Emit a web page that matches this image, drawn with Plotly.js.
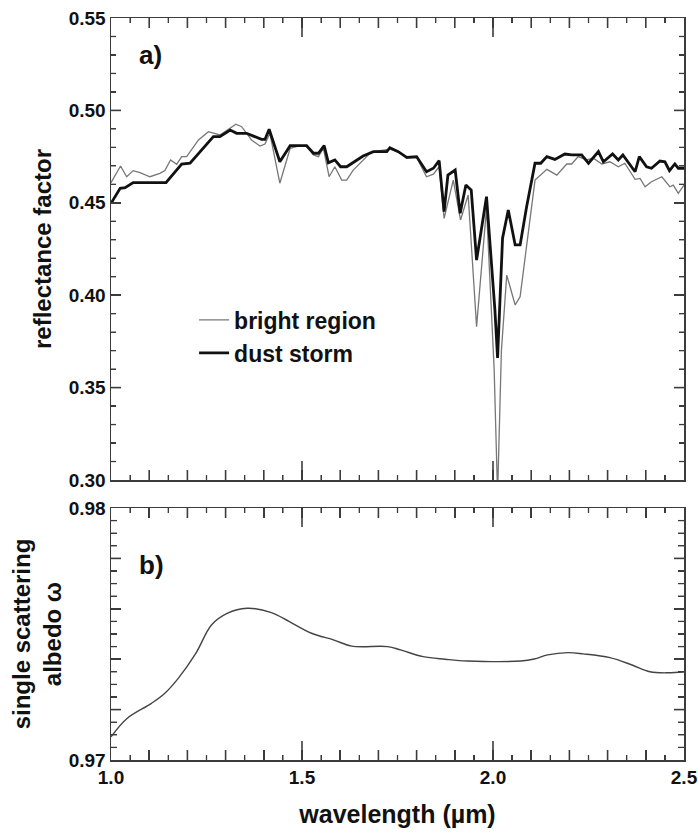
<!DOCTYPE html>
<html>
<head>
<meta charset="utf-8">
<script src="https://cdn.plot.ly/plotly-3.0.1.min.js"></script>
<style>
html,body{margin:0;padding:0;background:#fff;}
#wrap{position:relative;width:698px;height:832px;overflow:hidden;background:#fff;}
#top{position:absolute;left:0;top:0;width:698px;height:500px;}
#bot{position:absolute;left:0;top:490px;width:698px;height:342px;}
</style>
</head>
<body>
<div id="wrap"><div id="top"></div><div id="bot"></div></div>
<script>
// ---- data ----
const wlBright = [1.000,1.025,1.041,1.058,1.076,1.102,1.128,1.141,1.156,1.172,1.185,1.198,1.229,1.255,1.285,1.327,1.342,1.368,1.390,1.403,1.416,1.442,1.469,1.495,1.512,1.530,1.543,1.556,1.571,1.586,1.604,1.617,1.634,1.678,1.687,1.730,1.757,1.774,1.800,1.826,1.844,1.859,1.872,1.896,1.915,1.935,1.957,1.983,2.003,2.012,2.022,2.036,2.058,2.071,2.110,2.141,2.167,2.193,2.206,2.223,2.245,2.263,2.285,2.306,2.328,2.345,2.372,2.385,2.398,2.415,2.442,2.463,2.472,2.485,2.500];
const reflBright = [0.4609,0.4699,0.4641,0.4674,0.4663,0.4641,0.4659,0.4674,0.4732,0.4708,0.4750,0.4750,0.4840,0.4885,0.4867,0.4925,0.4912,0.4840,0.4807,0.4818,0.4876,0.4606,0.4795,0.4809,0.4809,0.4759,0.4750,0.4795,0.4641,0.4695,0.4623,0.4623,0.4677,0.4768,0.4777,0.4790,0.4771,0.4740,0.4745,0.4641,0.4655,0.4695,0.4416,0.4623,0.4407,0.4542,0.3830,0.4470,0.3600,0.2920,0.3700,0.4109,0.3947,0.3992,0.4623,0.4681,0.4650,0.4710,0.4710,0.4750,0.4732,0.4741,0.4710,0.4722,0.4695,0.4714,0.4627,0.4632,0.4587,0.4614,0.4641,0.4587,0.4596,0.4551,0.4596];

const wlDust = [1.000,1.024,1.037,1.058,1.144,1.185,1.207,1.268,1.285,1.312,1.329,1.355,1.373,1.394,1.403,1.414,1.442,1.469,1.512,1.530,1.543,1.558,1.569,1.586,1.601,1.617,1.660,1.687,1.722,1.730,1.752,1.774,1.800,1.826,1.844,1.859,1.872,1.882,1.901,1.914,1.929,1.943,1.957,1.983,2.005,2.012,2.025,2.040,2.058,2.071,2.088,2.110,2.125,2.141,2.162,2.188,2.206,2.232,2.250,2.276,2.289,2.313,2.328,2.340,2.372,2.383,2.402,2.415,2.437,2.450,2.462,2.476,2.485,2.500];
const reflDust = [0.4497,0.4578,0.4582,0.4609,0.4609,0.4710,0.4714,0.4858,0.4858,0.4894,0.4876,0.4876,0.4861,0.4843,0.4843,0.4898,0.4722,0.4809,0.4809,0.4768,0.4768,0.4809,0.4717,0.4732,0.4695,0.4695,0.4753,0.4777,0.4777,0.4798,0.4777,0.4746,0.4750,0.4668,0.4687,0.4728,0.4452,0.4650,0.4677,0.4443,0.4596,0.4569,0.4190,0.4533,0.3920,0.3660,0.4308,0.4461,0.4272,0.4272,0.4479,0.4714,0.4714,0.4750,0.4735,0.4764,0.4759,0.4759,0.4714,0.4777,0.4722,0.4764,0.4732,0.4759,0.4668,0.4750,0.4695,0.4687,0.4726,0.4722,0.4674,0.4710,0.4687,0.4687];

const wlAlbedo = [1.000,1.042,1.106,1.141,1.176,1.222,1.263,1.304,1.356,1.420,1.467,1.525,1.584,1.630,1.724,1.758,1.817,1.875,1.933,2.073,2.108,2.143,2.196,2.236,2.306,2.364,2.411,2.458,2.500];
const albedo = [0.97092,0.97165,0.97225,0.97265,0.97324,0.97423,0.97536,0.97582,0.97602,0.97585,0.97549,0.97503,0.97476,0.97452,0.97450,0.97437,0.97410,0.97400,0.97393,0.97393,0.97401,0.97417,0.97426,0.97421,0.97406,0.97377,0.97350,0.97346,0.97350];

// tick positions / labels (x: every 0.1, labelled every 0.5)
const xTickVals = [1.0,1.1,1.2,1.3,1.4,1.5,1.6,1.7,1.8,1.9,2.0,2.1,2.2,2.3,2.4,2.5];
const xTickText = ["1.0","","","","","1.5","","","","","2.0","","","","","2.5"];
const xLongTicks = [1.5, 2.0];
const yTopTickVals = [0.30, 0.35, 0.40, 0.45, 0.50, 0.55];
const yTopTickText = ["0.30", "0.35", "0.40", "0.45", "0.50", "0.55"];
const yBotTickVals = [0.970, 0.972, 0.974, 0.976, 0.978, 0.980];
const yBotTickText = ["0.97", "", "", "", "", "0.98"];

// ---- styling ----
const AX = '#3c3c3c';
const FAM = 'Liberation Sans, Arial, sans-serif';
const PLOT_W = 573;
function tickFont(){ return {family: FAM, size: 19, weight: 'bold', color: '#111'}; }
function titleFont(){ return {family: FAM, size: 24, weight: 'bold', color: '#111'}; }

function xAxis(extra){
  return Object.assign({
    range: [xTickVals[0], xTickVals[xTickVals.length - 1]], showgrid: false, zeroline: false,
    showline: true, linecolor: AX, linewidth: 1.5, mirror: 'ticks',
    ticks: 'inside', tickcolor: AX, tickwidth: 1.5, ticklen: 10,
    tickmode: 'array', tickvals: xTickVals, ticktext: xTickText,
    minor: {ticks: 'inside', tickmode: 'linear', tick0: 1.0, dtick: 0.05, ticklen: 5, tickcolor: AX, tickwidth: 1.2, showgrid: false},
    tickfont: tickFont()
  }, extra);
}
function yAxis(vals, text, minorStep, minorLen, title, standoff){
  const range = [vals[0], vals[vals.length - 1]];
  return {
    range: range, showgrid: false, zeroline: false, showline: true, linecolor: AX, linewidth: 1.5, mirror: 'ticks',
    ticks: 'inside', tickcolor: AX, tickwidth: 1.5, ticklen: 10,
    tickmode: 'array', tickvals: vals, ticktext: text,
    minor: {ticks: 'inside', tickmode: 'linear', tick0: range[0], dtick: minorStep, ticklen: minorLen, tickcolor: AX, tickwidth: 1.2, showgrid: false},
    tickfont: tickFont(),
    title: {text: title, font: titleFont(), standoff: standoff}
  };
}

// tick marks on all four edges as line segments in axis units (derived from the tick arrays and axis ranges)
function tickTraces(plotH, yVals, yMinorStep, yMinorLen){
  const xr0 = xTickVals[0], xr1 = xTickVals[xTickVals.length - 1];
  const yr0 = yVals[0], yr1 = yVals[yVals.length - 1];
  const pxY = (yr1 - yr0) / plotH, pxX = (xr1 - xr0) / PLOT_W;
  const maj = {x: [], y: []}, mnr = {x: [], y: []};
  const nx = Math.round((xr1 - xr0) / 0.05);
  for (let i = 1; i < nx; i++) {
    const v = +(xr0 + i * 0.05).toFixed(3);
    let len = 5, t = mnr;
    if (i % 2 === 0) { len = 10; t = maj; }
    if (xLongTicks.indexOf(v) >= 0) { len = 19; t = maj; }
    t.x.push(v, v, null, v, v, null);
    t.y.push(yr0, yr0 + len * pxY, null, yr1, yr1 - len * pxY, null);
  }
  const ny = Math.round((yr1 - yr0) / yMinorStep);
  for (let j = 1; j < ny; j++) {
    const v = yr0 + j * yMinorStep;
    const isMaj = yVals.some(function(tv){ return Math.abs(tv - v) < yMinorStep / 10; });
    const len = isMaj ? 10 : yMinorLen, t = isMaj ? maj : mnr;
    t.x.push(xr0, xr0 + len * pxX, null, xr1, xr1 - len * pxX, null);
    t.y.push(v, v, null, v, v, null);
  }
  return [
    {x: maj.x, y: maj.y, type: 'scatter', mode: 'lines', showlegend: false, hoverinfo: 'skip', connectgaps: false, line: {color: AX, width: 1.6}},
    {x: mnr.x, y: mnr.y, type: 'scatter', mode: 'lines', showlegend: false, hoverinfo: 'skip', connectgaps: false, line: {color: AX, width: 1.3}}
  ];
}

// ---- panel a ----
const tracesTop = [
  {x: wlBright, y: reflBright, type: 'scatter', mode: 'lines', name: 'bright region', line: {color: '#777', width: 1.3}},
  {x: wlDust, y: reflDust, type: 'scatter', mode: 'lines', name: 'dust storm', line: {color: '#111', width: 2.8}}
].concat(tickTraces(462, yTopTickVals, 0.01, 5));
const layoutTop = {
  width: 698, height: 500,
  margin: {l: 111, r: 14, t: 18, b: 20},
  paper_bgcolor: 'rgba(0,0,0,0)', plot_bgcolor: 'rgba(0,0,0,0)',
  showlegend: true,
  legend: {x: 0.145, y: 0.393, xanchor: 'left', yanchor: 'top', bgcolor: 'rgba(0,0,0,0)',
           font: {family: FAM, size: 23, weight: 'bold', color: '#111'}, tracegroupgap: 0},
  xaxis: xAxis({showticklabels: false}),
  yaxis: yAxis(yTopTickVals, yTopTickText, 0.01, 5, 'reflectance factor', 10),
  annotations: [{text: 'a)', xref: 'x domain', yref: 'y domain', x: 0.045, y: 0.92, xanchor: 'left', yanchor: 'middle',
     showarrow: false, font: {family: FAM, size: 26, weight: 'bold', color: '#111'}}]
};

// ---- panel b ----
const tracesBot = [
  {x: wlAlbedo, y: albedo, type: 'scatter', mode: 'lines', showlegend: false, line: {color: '#444', width: 1.4, shape: 'spline'}}
].concat(tickTraces(252, yBotTickVals, 0.0005, 6));
const layoutBot = {
  width: 698, height: 342,
  margin: {l: 111, r: 14, t: 18, b: 72},
  paper_bgcolor: 'rgba(0,0,0,0)', plot_bgcolor: 'rgba(0,0,0,0)',
  showlegend: false,
  xaxis: xAxis({showticklabels: true,
         title: {text: 'wavelength (µm)', standoff: 18, font: {family: FAM, size: 25, weight: 'bold', color: '#111'}}}),
  yaxis: yAxis(yBotTickVals, yBotTickText, 0.0005, 6, 'single scattering<br>albedo ω', 0),
  annotations: [{text: 'b)', xref: 'x domain', yref: 'y domain', x: 0.045, y: 0.775, xanchor: 'left', yanchor: 'middle',
     showarrow: false, font: {family: FAM, size: 26, weight: 'bold', color: '#111'}}]
};

const cfg = {staticPlot: true, displayModeBar: false};
Plotly.newPlot('top', tracesTop, layoutTop, cfg);
Plotly.newPlot('bot', tracesBot, layoutBot, cfg);
</script>
</body>
</html>
